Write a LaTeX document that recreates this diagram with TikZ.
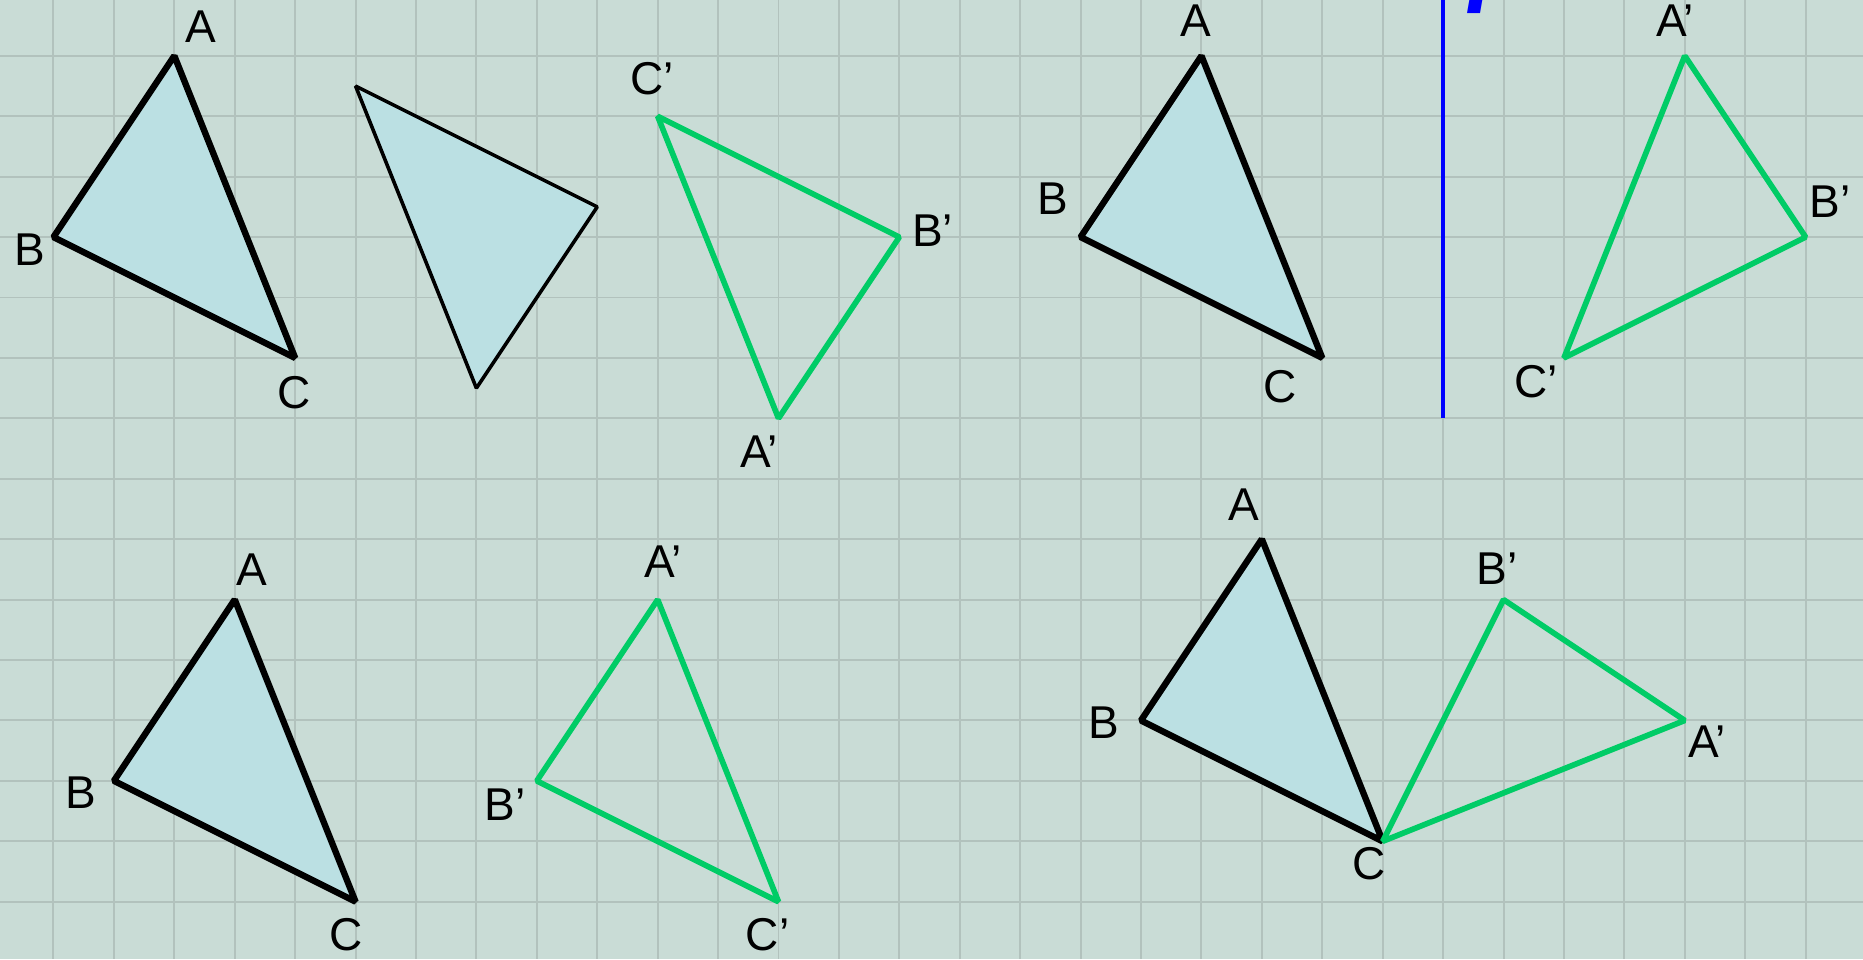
\documentclass[tikz,border=0pt]{standalone}
\usepackage{fontspec}
\setmainfont{Liberation Sans}
\newfontfamily\axisfont{Liberation Serif}
\usetikzlibrary{positioning}
\definecolor{paperbg}{HTML}{C9DCD6}
\definecolor{paperline}{HTML}{B2C2BD}
\definecolor{trifill}{HTML}{BBE0E3}
\definecolor{imagegreen}{HTML}{00CC66}
\definecolor{axisblue}{HTML}{0000FF}
\tikzset{
  orig/.style={draw=black, line width=1.8pt, line join=bevel, fill=trifill},
  origthin/.style={orig, line width=1pt},
  imagetri/.style={draw=imagegreen, line width=1.6pt, line join=bevel},
  axis/.style={draw=axisblue, line width=1.2pt},
  gridline/.style={draw=paperline, line width=0.55pt},
  lbl/.style={font=\fontsize{13}{15}\selectfont, inner sep=0pt},
}

\begin{document}
\begin{tikzpicture}[x=0.6cm, y=0.6cm]
  % squared paper
  \fill[paperbg] (-0.885,0.924) rectangle (29.95,-14.95);
  \useasboundingbox (-0.885,0.924) rectangle (29.95,-14.95);
  \clip (-0.885,0.924) rectangle (29.95,-14.95);
  \foreach \x in {0,...,29} \draw[gridline] (\x,0.924) -- (\x,-14.95);
  \foreach \y in {0,...,14} \draw[gridline] (-0.885,-\y) -- (29.95,-\y);

  % central symmetry
  \coordinate (A1) at (2,0);
  \coordinate (B1) at (0,-3);
  \coordinate (C1) at (4,-5);
  \coordinate (P1) at (5,-0.5);
  \coordinate (P2) at (9,-2.5);
  \coordinate (P3) at (7,-5.5);
  \coordinate (A1i) at (12,-6);
  \coordinate (B1i) at (14,-3);
  \coordinate (C1i) at (10,-1);
  \draw[orig] (A1) -- (B1) -- (C1) -- cycle;
  \draw[origthin] (P1) -- (P2) -- (P3) -- cycle;
  \draw[imagetri] (A1i) -- (B1i) -- (C1i) -- cycle;
  \node[lbl] (lA1) at (2.44,0.49) {A};
  \node[lbl] (lB1) at (-0.39,-3.21) {B};
  \node[lbl] (lC1) at (3.99,-5.57) {C};
  \node[lbl] (lA1i) at (11.68,-6.55) {A’};
  \node[lbl] (lB1i) at (14.55,-2.89) {B’};
  \node[lbl] (lC1i) at (9.91,-0.37) {C’};

  % axial symmetry
  \coordinate (A2) at (19,0);
  \coordinate (B2) at (17,-3);
  \coordinate (C2) at (21,-5);
  \coordinate (A2i) at (27,0);
  \coordinate (B2i) at (29,-3);
  \coordinate (C2i) at (25,-5);
  \coordinate (ftop) at (23,0.924);
  \coordinate (fbot) at (23,-6);
  \draw[orig] (A2) -- (B2) -- (C2) -- cycle;
  \draw[imagetri] (A2i) -- (B2i) -- (C2i) -- cycle;
  \draw[axis] (ftop) -- (fbot);
  \node[lbl] (lA2) at (18.9,0.59) {A};
  \node[lbl] (lB2) at (16.54,-2.36) {B};
  \node[lbl] (lC2) at (20.31,-5.47) {C};
  \node[lbl] (lA2i) at (26.84,0.59) {A’};
  \node[lbl] (lB2i) at (29.4,-2.42) {B’};
  \node[lbl] (lC2i) at (24.54,-5.39) {C’};
  \node[anchor=south, inner sep=0pt, text=axisblue,
        font=\axisfont\bfseries\itshape\fontsize{28}{30}\selectfont]
    (faxis) at (23.68,0.69) {f};

  % translation
  \coordinate (A3) at (3,-9);
  \coordinate (B3) at (1,-12);
  \coordinate (C3) at (5,-14);
  \coordinate (A3i) at (10,-9);
  \coordinate (B3i) at (8,-12);
  \coordinate (C3i) at (12,-14);
  \draw[orig] (A3) -- (B3) -- (C3) -- cycle;
  \draw[imagetri] (A3i) -- (B3i) -- (C3i) -- cycle;
  \node[lbl] (lA3) at (3.28,-8.5) {A};
  \node[lbl] (lB3) at (0.45,-12.19) {B};
  \node[lbl] (lC3) at (4.84,-14.55) {C};
  \node[lbl] (lA3i) at (10.09,-8.38) {A’};
  \node[lbl] (lB3i) at (7.47,-12.39) {B’};
  \node[lbl] (lC3i) at (11.82,-14.55) {C’};

  % rotation about C
  \coordinate (A4) at (20,-8);
  \coordinate (B4) at (18,-11);
  \coordinate (C4) at (22,-13);
  \coordinate (A4i) at (27,-11);
  \coordinate (B4i) at (24,-9);
  \draw[orig] (A4) -- (B4) -- (C4) -- cycle;
  \draw[imagetri] (A4i) -- (B4i) -- (C4) -- cycle;
  \node[lbl] (lA4) at (19.7,-7.43) {A};
  \node[lbl] (lB4) at (17.38,-11.03) {B};
  \node[lbl] (lC4) at (21.77,-13.37) {C};
  \node[lbl] (lA4i) at (27.37,-11.35) {A’};
  \node[lbl] (lB4i) at (23.89,-8.48) {B’};
\end{tikzpicture}
\end{document}
